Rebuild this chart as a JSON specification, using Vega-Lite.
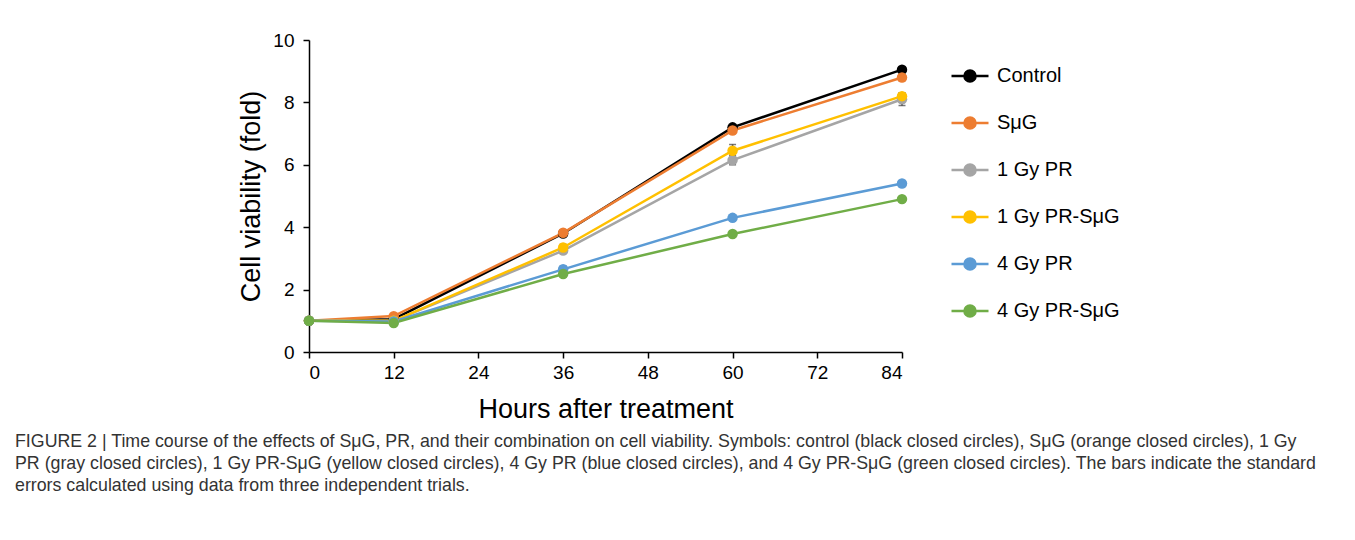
{
  "$schema": "https://vega.github.io/schema/vega-lite/v6.json",
  "width": 593,
  "height": 312,
  "autosize": {"type": "none"},
  "padding": {"left": 309, "top": 40, "right": 453, "bottom": 188},
  "background": "white",
  "config": {"view": {"stroke": null}},
  "title": {
    "text": [
      "FIGURE 2 | Time course of the effects of SμG, PR, and their combination on cell viability. Symbols: control (black closed circles), SμG (orange closed circles), 1 Gy",
      "PR (gray closed circles), 1 Gy PR-SμG (yellow closed circles), 4 Gy PR (blue closed circles), and 4 Gy PR-SμG (green closed circles). The bars indicate the standard",
      "errors calculated using data from three independent trials."
    ],
    "orient": "bottom",
    "anchor": "start",
    "frame": "group",
    "dx": -294,
    "offset": 11,
    "font": "Liberation Sans",
    "fontSize": 17.8,
    "fontWeight": "normal",
    "color": "#333333",
    "lineHeight": 22
  },
  "data": {
    "values": [
      {"series": "Control", "hours": 0, "viability": 1.0, "se": 0.0},
      {"series": "Control", "hours": 12, "viability": 1.05, "se": 0.03},
      {"series": "Control", "hours": 36, "viability": 3.8, "se": 0.05},
      {"series": "Control", "hours": 60, "viability": 7.2, "se": 0.08},
      {"series": "Control", "hours": 84, "viability": 9.05, "se": 0.08},
      {"series": "SμG", "hours": 0, "viability": 1.0, "se": 0.0},
      {"series": "SμG", "hours": 12, "viability": 1.15, "se": 0.03},
      {"series": "SμG", "hours": 36, "viability": 3.82, "se": 0.05},
      {"series": "SμG", "hours": 60, "viability": 7.1, "se": 0.06},
      {"series": "SμG", "hours": 84, "viability": 8.8, "se": 0.1},
      {"series": "1 Gy PR", "hours": 0, "viability": 1.0, "se": 0.0},
      {"series": "1 Gy PR", "hours": 12, "viability": 1.0, "se": 0.03},
      {"series": "1 Gy PR", "hours": 36, "viability": 3.25, "se": 0.08},
      {"series": "1 Gy PR", "hours": 60, "viability": 6.15, "se": 0.15},
      {"series": "1 Gy PR", "hours": 84, "viability": 8.1, "se": 0.2},
      {"series": "1 Gy PR-SμG", "hours": 0, "viability": 1.0, "se": 0.0},
      {"series": "1 Gy PR-SμG", "hours": 12, "viability": 1.0, "se": 0.03},
      {"series": "1 Gy PR-SμG", "hours": 36, "viability": 3.35, "se": 0.1},
      {"series": "1 Gy PR-SμG", "hours": 60, "viability": 6.45, "se": 0.2},
      {"series": "1 Gy PR-SμG", "hours": 84, "viability": 8.2, "se": 0.1},
      {"series": "4 Gy PR", "hours": 0, "viability": 1.0, "se": 0.0},
      {"series": "4 Gy PR", "hours": 12, "viability": 0.98, "se": 0.03},
      {"series": "4 Gy PR", "hours": 36, "viability": 2.65, "se": 0.1},
      {"series": "4 Gy PR", "hours": 60, "viability": 4.3, "se": 0.08},
      {"series": "4 Gy PR", "hours": 84, "viability": 5.4, "se": 0.05},
      {"series": "4 Gy PR-SμG", "hours": 0, "viability": 1.0, "se": 0.0},
      {"series": "4 Gy PR-SμG", "hours": 12, "viability": 0.93, "se": 0.03},
      {"series": "4 Gy PR-SμG", "hours": 36, "viability": 2.5, "se": 0.05},
      {"series": "4 Gy PR-SμG", "hours": 60, "viability": 3.78, "se": 0.08},
      {"series": "4 Gy PR-SμG", "hours": 84, "viability": 4.9, "se": 0.05}
    ]
  },
  "encoding": {
    "x": {
      "field": "hours",
      "type": "quantitative",
      "scale": {"domain": [0, 84], "nice": false},
      "axis": {
        "title": "Hours after treatment",
        "values": [0, 12, 24, 36, 48, 60, 72, 84],
        "grid": false,
        "domainColor": "black",
        "domainWidth": 1.5,
        "tickColor": "black",
        "tickWidth": 1.5,
        "tickSize": 6,
        "labelPadding": 5,
        "labelFont": "Liberation Sans",
        "labelFontSize": 19,
        "labelColor": "black",
        "titleFont": "Liberation Sans",
        "titleFontSize": 27,
        "titleFontWeight": "normal",
        "titleColor": "black",
        "titlePadding": 14
      }
    },
    "y": {
      "field": "viability",
      "type": "quantitative",
      "scale": {"domain": [0, 10], "nice": false},
      "axis": {
        "title": "Cell viability (fold)",
        "values": [0, 2, 4, 6, 8, 10],
        "grid": false,
        "domainColor": "black",
        "domainWidth": 1.5,
        "tickColor": "black",
        "tickWidth": 1.5,
        "tickSize": 6,
        "labelPadding": 9,
        "labelFont": "Liberation Sans",
        "labelFontSize": 19,
        "labelColor": "black",
        "titleFont": "Liberation Sans",
        "titleFontSize": 27,
        "titleFontWeight": "normal",
        "titleColor": "black",
        "titlePadding": 7
      }
    }
  },
  "layer": [
    {
      "mark": {"type": "line", "strokeWidth": 2.5},
      "encoding": {
        "color": {
          "field": "series",
          "type": "nominal",
          "scale": {
            "domain": ["Control", "SμG", "1 Gy PR", "1 Gy PR-SμG", "4 Gy PR", "4 Gy PR-SμG"],
            "range": ["#000000", "#ED7D31", "#A5A5A5", "#FFC000", "#5B9BD5", "#70AD47"]
          },
          "legend": {
            "title": null,
            "orient": "none",
            "legendX": 641,
            "legendY": 16,
            "padding": 0,
            "symbolType": "M-1,0L1,0M0.3,0A0.3,0.3,0,1,1,-0.3,0A0.3,0.3,0,1,1,0.3,0",
            "symbolSize": 1369,
            "symbolStrokeWidth": 2.5,
            "labelFont": "Liberation Sans",
            "labelFontSize": 20,
            "labelColor": "black",
            "labelOffset": 7,
            "rowPadding": 16,
            "labelLimit": 300,
            "encode": {
              "symbols": {"update": {"fill": {"scale": "color", "field": "value"}, "fillOpacity": {"value": 1}}}
            }
          }
        }
      }
    },
    {
      "mark": {"type": "errorbar", "ticks": {"size": 7}, "color": "#404040", "thickness": 1.5},
      "encoding": {
        "yError": {"field": "se"}
      }
    },
    {
      "mark": {"type": "circle", "size": 110, "opacity": 1},
      "encoding": {
        "color": {"field": "series", "type": "nominal"}
      }
    }
  ]
}
